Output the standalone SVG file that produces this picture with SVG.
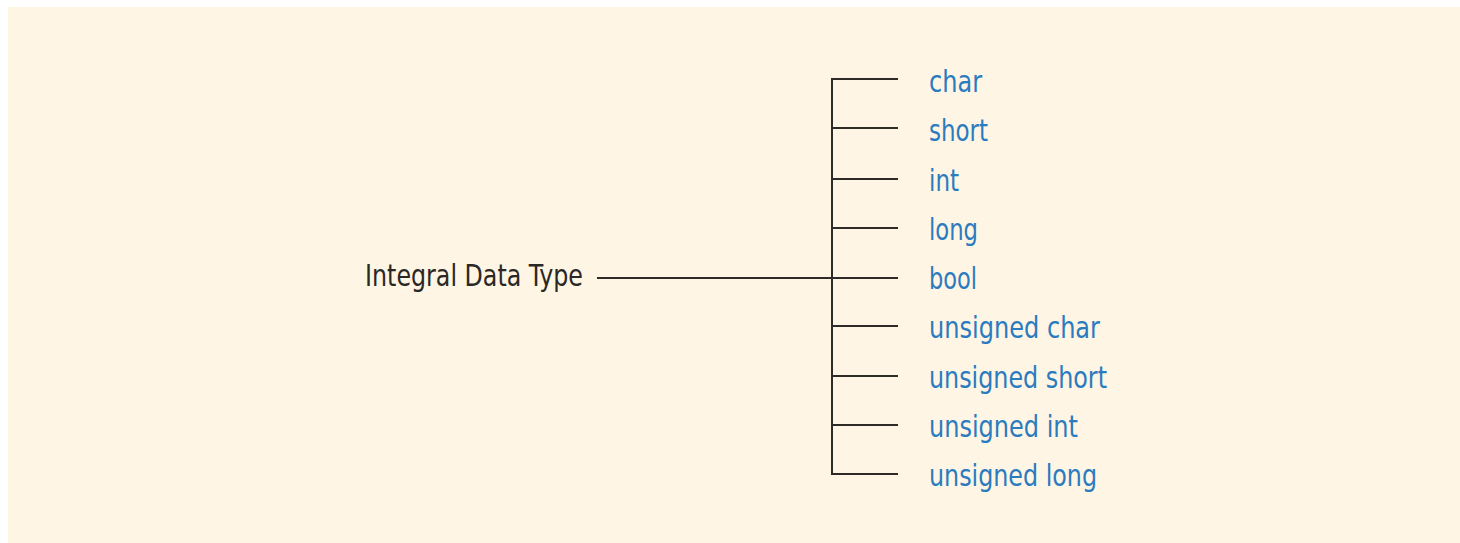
<svg xmlns="http://www.w3.org/2000/svg" width="1460" height="543" viewBox="0 0 1460 543">
<style>
.ln{stroke:#2e2a28;stroke-width:2;fill:none}
.t{font-family:"Liberation Sans Narrow","DejaVu Sans Condensed",sans-serif;font-size:30px;font-stretch:condensed}
.b{fill:#2a7bbf}
.k{fill:#2b2725}
</style>
<rect x="0" y="0" width="1460" height="543" fill="#ffffff"/>
<rect x="8" y="7" width="1452" height="536" fill="#fef5e4"/>
<g id="connectors">
<line class="ln" x1="597" y1="278" x2="898" y2="278"/>
<line class="ln" x1="832" y1="78" x2="832" y2="475"/>
<line class="ln" x1="832" y1="79" x2="898" y2="79"/>
<line class="ln" x1="832" y1="128" x2="898" y2="128"/>
<line class="ln" x1="832" y1="179" x2="898" y2="179"/>
<line class="ln" x1="832" y1="228" x2="898" y2="228"/>
<line class="ln" x1="832" y1="326" x2="898" y2="326"/>
<line class="ln" x1="832" y1="376" x2="898" y2="376"/>
<line class="ln" x1="832" y1="425" x2="898" y2="425"/>
<line class="ln" x1="832" y1="474" x2="898" y2="474"/>
</g>
<g id="root"><text class="t k" x="365" y="286" textLength="218" lengthAdjust="spacingAndGlyphs">Integral Data Type</text></g>
<g id="n-char"><text class="t b" x="929" y="92" textLength="53" lengthAdjust="spacingAndGlyphs">char</text></g>
<g id="n-short"><text class="t b" x="929" y="141" textLength="59" lengthAdjust="spacingAndGlyphs">short</text></g>
<g id="n-int"><text class="t b" x="929" y="191" textLength="30" lengthAdjust="spacingAndGlyphs">int</text></g>
<g id="n-long"><text class="t b" x="929" y="240" textLength="49" lengthAdjust="spacingAndGlyphs">long</text></g>
<g id="n-bool"><text class="t b" x="929" y="289" textLength="48" lengthAdjust="spacingAndGlyphs">bool</text></g>
<g id="n-uchar"><text class="t b" x="929" y="338" textLength="171" lengthAdjust="spacingAndGlyphs">unsigned char</text></g>
<g id="n-ushort"><text class="t b" x="929" y="388" textLength="178" lengthAdjust="spacingAndGlyphs">unsigned short</text></g>
<g id="n-uint"><text class="t b" x="929" y="437" textLength="149" lengthAdjust="spacingAndGlyphs">unsigned int</text></g>
<g id="n-ulong"><text class="t b" x="929" y="486" textLength="168" lengthAdjust="spacingAndGlyphs">unsigned long</text></g>
</svg>
